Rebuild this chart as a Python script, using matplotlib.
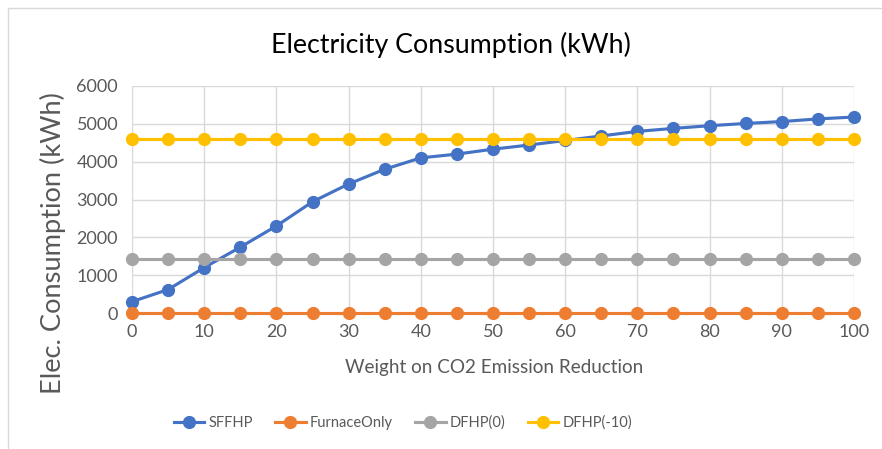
"""
Electricity consumption versus weight on CO2 emission reduction.
"""

import matplotlib
matplotlib.use("Agg")
import matplotlib.pyplot as plt
from matplotlib.patches import Rectangle

plt.rcParams["font.family"] = ["Lato", "DejaVu Sans"]

weights = [0, 5, 10, 15, 20, 25, 30, 35, 40, 45, 50,
           55, 60, 65, 70, 75, 80, 85, 90, 95, 100]

sffhp = [300, 620, 1200, 1740, 2300, 2940, 3410, 3800, 4100, 4200, 4330,
         4440, 4560, 4680, 4800, 4880, 4950, 5010, 5060, 5130, 5180]
furnace_only = [0] * len(weights)
dfhp_0 = [1430] * len(weights)
dfhp_m10 = [4590] * len(weights)

series = [("SFFHP", sffhp, "#4472c4"),
          ("FurnaceOnly", furnace_only, "#ed7d31"),
          ("DFHP(0)", dfhp_0, "#a5a5a5"),
          ("DFHP(-10)", dfhp_m10, "#ffc000")]

x_ticks = list(range(0, 101, 10))
y_ticks = list(range(0, 6001, 1000))

TEXT = "#595959"
GRID = "#d9d9d9"
W, H = 882, 449

fig = plt.figure(figsize=(W / 100, H / 100), dpi=100)
ax = fig.add_axes([132 / W, 1 - 313 / H, 722 / W, 227 / H])

# chart area frame, open on the right and bottom
fig.patches.append(Rectangle((8 / W, -0.1), 1.2, 1.1 - 8 / H,
                             transform=fig.transFigure, fill=False,
                             edgecolor=GRID, linewidth=1.0))

for name, values, color in series:
    ax.plot(weights, values, color=color, linewidth=2.25, marker="o",
            markersize=8.5, label=name, zorder=3, clip_on=False)

ax.set_xlim(0, 100)
ax.set_ylim(0, 6000)
ax.set_xticks(x_ticks)
ax.set_yticks(y_ticks)
ax.grid(True, color=GRID, linewidth=1.0, zorder=0)
ax.set_axisbelow(True)
for spine in ax.spines.values():
    spine.set_visible(False)
ax.tick_params(length=0, labelsize=13, colors=TEXT)
ax.tick_params(axis="x", pad=8)
ax.tick_params(axis="y", pad=10)

fig.text(451 / W, 1 - 45 / H, "Electricity Consumption (kWh)",
         fontsize=19.3, color="black", ha="center", va="center")
fig.text(494 / W, 1 - 368 / H, "Weight on CO2 Emission Reduction",
         fontsize=13.6, color=TEXT, ha="center", va="center")
fig.text(53 / W, 1 - 243 / H, "Elec. Consumption (kWh)", fontsize=19.6,
         color=TEXT, rotation=90, ha="center", va="center")

fig.legend(loc="center", bbox_to_anchor=(403 / W, 1 - 423 / H), ncol=4,
           frameon=False, fontsize=10.5, labelcolor=TEXT,
           handlelength=2.1, handletextpad=0.3, columnspacing=1.5)

fig.savefig("out.png", dpi=100)
